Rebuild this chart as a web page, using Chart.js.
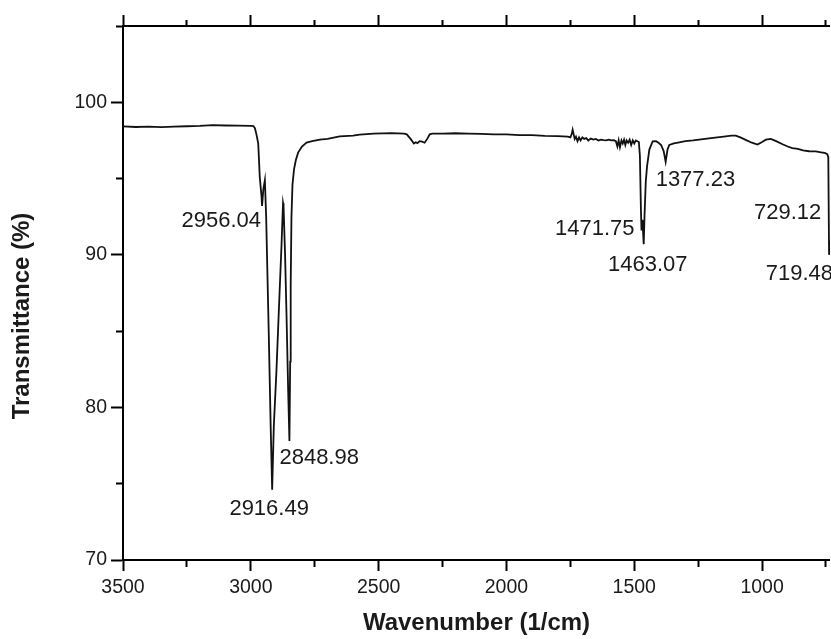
<!DOCTYPE html>
<html lang="en">
  <head>
    <meta charset="UTF-8" />
    <title>FTIR spectrum</title>
    <script src="https://cdn.jsdelivr.net/npm/chart.js@4.4.1/dist/chart.umd.min.js"></script>
    <style>
      body { margin: 0; background: #fff; }
      #wrap { width: 831px; height: 639px; }
    </style>
  </head>
  <body>
    <div id="wrap"><canvas id="chart"></canvas></div>
  <script>
// wavenumber (1/cm) and transmittance (%)
const wavenumber = [
  3500, 3450, 3400, 3350, 3300, 3250, 3200, 3150, 3100, 3050, 3000, 2990,
  2984, 2978, 2971, 2965, 2958, 2956.04, 2951, 2945, 2940, 2930, 2922, 2916.49,
  2910, 2900, 2890, 2880, 2874, 2872, 2866, 2860, 2854, 2848.98, 2846, 2844,
  2841, 2837, 2831, 2824, 2815, 2800, 2782, 2760, 2730, 2700, 2652, 2600, 2574,
  2520, 2450, 2400, 2390, 2375, 2362, 2355, 2348, 2340, 2330, 2320, 2310,
  2300, 2290, 2250, 2200, 2150, 2100, 2050, 2000, 1950, 1900, 1850, 1800,
  1760, 1750, 1745, 1741, 1737, 1733, 1728, 1722, 1716, 1710, 1703, 1696,
  1688, 1680, 1670, 1660, 1650, 1640, 1630, 1620, 1610, 1600, 1590, 1580,
  1572, 1566, 1561, 1556, 1550, 1545, 1540, 1535, 1530, 1524, 1518, 1512,
  1506, 1500, 1494, 1488, 1482, 1478, 1474, 1471.75, 1468, 1463.07, 1460, 1455,
  1450, 1441, 1428, 1415, 1405, 1395, 1385, 1377.23, 1370, 1363, 1345, 1324,
  1300, 1270, 1246, 1200, 1150, 1120, 1103, 1085, 1060, 1040, 1018, 1000,
  985, 966, 945, 920, 900, 882, 860, 840, 816, 790, 770, 755,
  745, 741, 738, 729.12, 719.48
];
const transmittance = [
  98.42, 98.38, 98.40, 98.37, 98.40, 98.43, 98.45, 98.50, 98.48, 98.47, 98.46, 98.44,
  98.30, 97.90, 97.30, 95.10, 93.80, 93.20, 94.30, 94.90, 92.50, 85.00, 78.50, 74.60,
  78.80, 82.30, 86.50, 90.60, 93.40, 93.20, 90.00, 85.80, 81.20, 77.80, 83.00, 88.00,
  92.50, 94.60, 95.60, 96.20, 96.70, 97.10, 97.36, 97.45, 97.55, 97.60, 97.77, 97.82, 97.88,
  97.95, 97.98, 97.95, 97.90, 97.60, 97.30, 97.38, 97.32, 97.45, 97.42, 97.35, 97.60,
  97.90, 97.95, 97.95, 97.97, 97.95, 97.93, 97.90, 97.90, 97.85, 97.85, 97.80, 97.78,
  97.75, 97.70, 97.90, 98.20, 97.90, 97.60, 97.75, 97.45, 97.70, 97.50, 97.70, 97.60,
  97.65, 97.50, 97.62, 97.55, 97.60, 97.50, 97.55, 97.52, 97.50, 97.55, 97.50, 97.52,
  97.45, 97.10, 97.50, 97.05, 97.50, 97.30, 97.55, 97.20, 97.50, 97.35, 97.55, 97.20,
  97.50, 97.30, 97.50, 97.45, 97.40, 96.50, 93.00, 91.60, 92.30, 90.70, 92.50, 94.80,
  95.80, 96.90, 97.44, 97.45, 97.35, 97.20, 96.80, 96.10, 96.90, 97.20, 97.30, 97.38,
  97.45, 97.50, 97.55, 97.65, 97.75, 97.82, 97.82, 97.70, 97.50, 97.35, 97.23, 97.40,
  97.55, 97.60, 97.45, 97.25, 97.10, 97.00, 96.95, 96.85, 96.79, 96.78, 96.72, 96.68,
  96.60, 96.40, 90.00, 91.20, 89.30
];

// labelled peaks
const peakWavenumber = [2956.04, 2916.49, 2848.98, 1471.75, 1463.07, 1377.23, 729.12, 719.48];
const peakTransmittance = [93.2, 74.6, 77.8, 91.6, 90.7, 96.1, 91.2, 89.3];

// axis ticks
const xTicks = [3500, 3250, 3000, 2750, 2500, 2250, 2000, 1750, 1500, 1250, 1000, 750];
const xTickLabels = [3500, 3000, 2500, 2000, 1500, 1000];
const yTicks = [70, 75, 80, 85, 90, 95, 100, 105];
const yTickLabels = [70, 80, 90, 100];

const ink = '#1a1a1a';
const fontFamily = "Arial, 'Liberation Sans', sans-serif";

// where each peak label sits relative to its peak (px)
const peakLabelPlace = [
  { dx: -1, dy: 15, align: 'right' },
  { dx: -3, dy: 19, align: 'center' },
  { dx: -10, dy: 17, align: 'left' },
  { dx: -7, dy: -2, align: 'right' },
  { dx: 4, dy: 21, align: 'center' },
  { dx: -10, dy: 18, align: 'left' },
  { dx: -10, dy: -24, align: 'right' },
  { dx: -68, dy: 8, align: 'left' }
];

const peakLabels = {
  id: 'peakLabels',
  afterDatasetsDraw(chart) {
    const { ctx, scales: { x, y } } = chart;
    ctx.save();
    ctx.fillStyle = ink;
    ctx.font = '22px ' + fontFamily;
    ctx.textBaseline = 'middle';
    peakWavenumber.forEach((w, i) => {
      const p = peakLabelPlace[i];
      ctx.textAlign = p.align;
      ctx.fillText(w.toFixed(2), x.getPixelForValue(w) + p.dx, y.getPixelForValue(peakTransmittance[i]) + p.dy);
    });
    ctx.restore();
  }
};

const yTitle = {
  id: 'yTitle',
  afterDraw(chart) {
    const { ctx, chartArea } = chart;
    ctx.save();
    ctx.fillStyle = ink;
    ctx.font = 'bold 24px ' + fontFamily;
    ctx.textAlign = 'center';
    ctx.textBaseline = 'middle';
    ctx.translate(22, (chartArea.top + chartArea.bottom) / 2 + 23);
    ctx.rotate(-Math.PI / 2);
    ctx.fillText('Transmittance (%)', 0, 0);
    ctx.restore();
  }
};

// short ticks for minor values: dash pattern cuts the tick line
function minorDash(majors, len, outerFirst, tl) {
  return (c) => {
    if (!c.tick || majors.includes(c.tick.value)) return [];
    return outerFirst ? [0, tl - len, len, 100] : [len, 100];
  };
}

const xMajor = [3500, 3000, 2500, 2000, 1500, 1000];

const ctx = document.getElementById('chart').getContext('2d');
new Chart(ctx, {
  type: 'line',
  data: {
    datasets: [{
      data: wavenumber.map((w, i) => ({ x: w, y: transmittance[i] })),
      borderColor: '#111',
      borderWidth: 1.8,
      pointRadius: 0,
      tension: 0,
      fill: false
    }]
  },
  options: {
    responsive: true,
    maintainAspectRatio: false,
    animation: false,
    layout: { padding: 0 },
    plugins: { legend: { display: false }, tooltip: { enabled: false } },
    scales: {
      x: {
        type: 'linear',
        position: 'bottom',
        reverse: true,
        min: 734.4,
        max: 3500,
        afterBuildTicks: (s) => { s.ticks = xTicks.map(v => ({ value: v })); },
        afterFit: (s) => { s.height = 79; },
        ticks: {
          autoSkip: false,
          maxRotation: 0,
          padding: 5,
          color: ink,
          font: { family: fontFamily, size: 19.5 },
          callback: (v) => xTickLabels.includes(v) ? String(v) : ''
        },
        grid: {
          drawOnChartArea: false,
          tickLength: 11,
          tickWidth: 2,
          tickColor: '#000',
          tickBorderDash: minorDash(xMajor, 6, false, 11)
        },
        border: { display: true, color: '#000', width: 2 },
        title: {
          display: true,
          text: 'Wavenumber (1/cm)',
          color: ink,
          font: { family: fontFamily, size: 24, weight: 'bold' },
          padding: { top: 0, bottom: 1 }
        }
      },
      xTop: {
        type: 'linear',
        position: 'top',
        reverse: true,
        min: 734.4,
        max: 3500,
        afterBuildTicks: (s) => { s.ticks = xTicks.map(v => ({ value: v })); },
        afterFit: (s) => { s.height = 26; },
        ticks: { display: false },
        grid: {
          drawOnChartArea: false,
          tickLength: 11,
          tickWidth: 2,
          tickColor: '#000',
          tickBorderDash: minorDash(xMajor, 6, true, 11)
        },
        border: { display: true, color: '#000', width: 2 }
      },
      y: {
        type: 'linear',
        position: 'left',
        min: 70,
        max: 105,
        afterBuildTicks: (s) => { s.ticks = yTicks.map(v => ({ value: v })); },
        afterFit: (s) => { s.width = 123; },
        ticks: {
          padding: 4,
          color: ink,
          font: { family: fontFamily, size: 19.5 },
          callback: (v) => yTickLabels.includes(v) ? String(v) : ''
        },
        grid: {
          drawOnChartArea: false,
          tickLength: 12,
          tickWidth: 2,
          tickColor: '#000',
          tickBorderDash: minorDash(yTickLabels, 7, true, 12)
        },
        border: { display: true, color: '#000', width: 2 }
      }
    }
  },
  plugins: [peakLabels, yTitle]
});
  </script>
  </body>
</html>
